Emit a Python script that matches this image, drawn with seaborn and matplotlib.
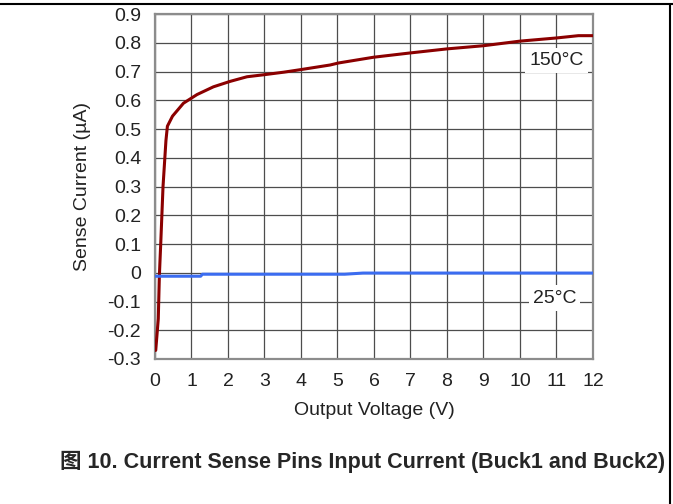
import pandas as pd
import seaborn as sns
import matplotlib.pyplot as plt
from matplotlib.lines import Line2D

# 150 degC curve
x_150 = [0.0, 0.02, 0.09, 0.12, 0.16, 0.22, 0.30, 0.34, 0.48, 0.78, 1.15, 1.60,
         2.06, 2.52, 2.98, 3.53, 4.0, 4.8, 5.03, 5.99, 7.0, 8.0, 9.0, 10.0,
         11.0, 11.6, 12.0]
y_150 = [-0.27, -0.27, -0.16, -0.01, 0.11, 0.30, 0.46, 0.51, 0.545, 0.59, 0.62,
         0.647, 0.666, 0.682, 0.689, 0.698, 0.707, 0.723, 0.730, 0.750, 0.765,
         0.779, 0.790, 0.806, 0.817, 0.825, 0.825]

# 25 degC curve
x_25 = [0.0, 1.25, 1.3, 5.2, 5.7, 12.0]
y_25 = [-0.012, -0.012, -0.005, -0.005, -0.001, -0.001]

x_ticks = list(range(0, 13))
y_ticks = [0.9, 0.8, 0.7, 0.6, 0.5, 0.4, 0.3, 0.2, 0.1, 0.0, -0.1, -0.2, -0.3]
y_tick_labels = ["0.9", "0.8", "0.7", "0.6", "0.5", "0.4", "0.3", "0.2", "0.1",
                 "0", "-0.1", "-0.2", "-0.3"]

df = pd.concat([
    pd.DataFrame({"v": x_150, "i": y_150, "temp": "150°C"}),
    pd.DataFrame({"v": x_25, "i": y_25, "temp": "25°C"}),
])

sns.set_style("white")
plt.rcParams["font.family"] = ["Liberation Sans", "Noto Sans CJK SC", "DejaVu Sans"]

fig = plt.figure(figsize=(6.73, 5.04), dpi=100)
ax = fig.add_axes([0.2303, 0.2877, 0.8811 - 0.2303, 0.972 - 0.2877])

sns.lineplot(data=df, x="v", y="i", hue="temp", sort=False, estimator=None,
             palette={"150°C": "#8b0000", "25°C": "#3b6cf0"},
             linewidth=2.2, legend=False, ax=ax, zorder=3)

ax.set_xlim(0, 12)
ax.set_ylim(-0.3, 0.9)
ax.set_xticks(x_ticks)
ax.set_xticklabels([str(t) for t in x_ticks])
ax.set_yticks(y_ticks)
ax.set_yticklabels(y_tick_labels)
ax.grid(True, color="#4d4d4d", linewidth=0.9)
ax.set_axisbelow(True)
for sp in ax.spines.values():
    sp.set_color("#8c8c8c")
    sp.set_linewidth(1.6)
ax.tick_params(axis="x", length=2, color="#8c8c8c", pad=8, labelsize=14,
               labelcolor="#222222")
ax.tick_params(axis="y", length=0, pad=10, labelsize=14, labelcolor="#222222")

ax.set_xlabel("Output Voltage (V)", fontsize=14, color="#222222", labelpad=9)
ax.set_ylabel("Sense Current (µA)", fontsize=14, color="#222222", labelpad=12)

box = dict(facecolor="white", edgecolor="none", pad=3)
ax.text(11.0, 0.738, "150°C", ha="center", va="center", fontsize=14,
        color="#222222", bbox=box, zorder=4)
ax.text(10.95, -0.088, "25°C", ha="center", va="center", fontsize=14,
        color="#222222", bbox=box, zorder=4)

fig.text(0.988, 0.083, "图 10. Current Sense Pins Input Current (Buck1 and Buck2)",
         ha="right", va="center", fontsize=15.5, fontweight="bold",
         family=["Liberation Sans", "Noto Sans CJK SC"])

# page frame lines
fig.add_artist(Line2D([0, 1], [0.992, 0.992], color="black", linewidth=1.5,
                      transform=fig.transFigure))
fig.add_artist(Line2D([0.996, 0.996], [0, 0.992], color="black", linewidth=1.5,
                      transform=fig.transFigure))

fig.savefig("out.png", dpi=100)
